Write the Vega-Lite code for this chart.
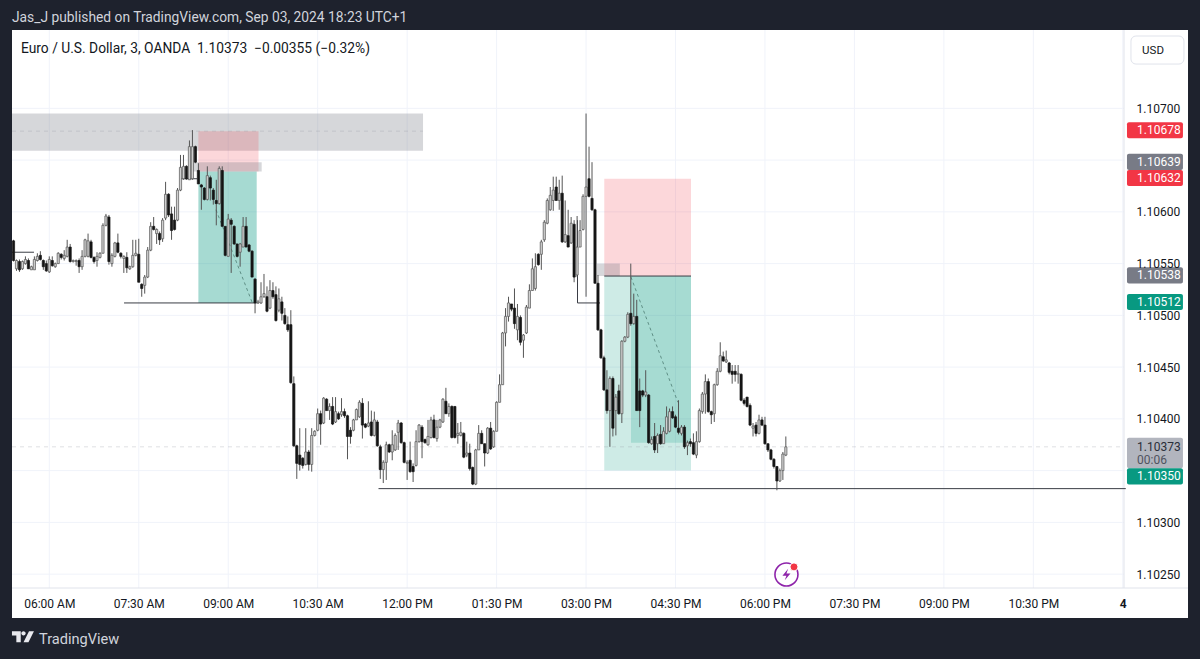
{"$schema":"https://vega.github.io/schema/vega-lite/v6.json","width":1112,"height":558,"autosize":{"type":"none"},"padding":{"left":12,"top":30,"right":76,"bottom":71},"background":"#1e222d","view":{"stroke":null},"config":{"scale":{"continuousPadding":0}},
"datasets":{
"panel":[{"a":"2024-09-03T05:22:29Z","b":"2024-09-04T01:05:36Z","top":1.107757,"bot":1.102076}],
"gx":[{"t":"2024-09-03T06:00Z"},{"t":"2024-09-03T07:30Z"},{"t":"2024-09-03T09:00Z"},{"t":"2024-09-03T10:30Z"},{"t":"2024-09-03T12:00Z"},{"t":"2024-09-03T13:30Z"},{"t":"2024-09-03T15:00Z"},{"t":"2024-09-03T16:30Z"},{"t":"2024-09-03T18:00Z"},{"t":"2024-09-03T19:30Z"},{"t":"2024-09-03T21:00Z"},{"t":"2024-09-03T22:30Z"},{"t":"2024-09-04T00:00Z"}],
"gy":[{"p":1.107},{"p":1.1065},{"p":1.106},{"p":1.1055},{"p":1.105},{"p":1.1045},{"p":1.104},{"p":1.1035},{"p":1.103},{"p":1.1025}],
"zones":[
{"a":"2024-09-03T05:22:29Z","b":"2024-09-03T12:16Z","top":1.10695,"bot":1.10659,"k":"gray"},
{"a":"2024-09-03T08:30Z","b":"2024-09-03T09:30:30Z","top":1.10678,"bot":1.10639,"k":"red"},
{"a":"2024-09-03T08:30Z","b":"2024-09-03T09:28:40Z","top":1.10639,"bot":1.10512,"k":"greenstrong"},
{"a":"2024-09-03T08:24:36Z","b":"2024-09-03T09:33:40Z","top":1.10648,"bot":1.10639,"k":"gray"},
{"a":"2024-09-03T15:18:20Z","b":"2024-09-03T16:45:36Z","top":1.10632,"bot":1.10538,"k":"red"},
{"a":"2024-09-03T15:18:20Z","b":"2024-09-03T16:45:36Z","top":1.10538,"bot":1.1035,"k":"green"},
{"a":"2024-09-03T15:45:12Z","b":"2024-09-03T16:45:36Z","top":1.10538,"bot":1.10377,"k":"green"},
{"a":"2024-09-03T15:11Z","b":"2024-09-03T15:34Z","top":1.1055,"bot":1.10538,"k":"gray"}],
"solid":[
{"x1":"2024-09-03T07:15:12Z","x2":"2024-09-03T09:28:40Z","y1":1.10512,"y2":1.10512},
{"x1":"2024-09-03T05:22:29Z","x2":"2024-09-03T05:44:36Z","y1":1.10561,"y2":1.10561},
{"x1":"2024-09-03T08:11:30Z","x2":"2024-09-03T08:28:36Z","y1":1.10632,"y2":1.10632},
{"x1":"2024-09-03T15:18:20Z","x2":"2024-09-03T16:45:36Z","y1":1.10538,"y2":1.10538},
{"x1":"2024-09-03T14:51:24Z","x2":"2024-09-03T15:14Z","y1":1.10512,"y2":1.10512},
{"x1":"2024-09-03T14:51:24Z","x2":"2024-09-03T14:51:24Z","y1":1.10592,"y2":1.10512},
{"x1":"2024-09-03T11:31:12Z","x2":"2024-09-04T00:03Z","y1":1.103326,"y2":1.103326}],
"faint":[
{"x1":"2024-09-03T05:22:29Z","x2":"2024-09-03T12:16Z","y1":1.10678,"y2":1.10678},
{"x1":"2024-09-03T05:22:29Z","x2":"2024-09-04T00:01:12Z","y1":1.10373,"y2":1.10373}],
"diag":[
{"x1":"2024-09-03T08:47:42Z","x2":"2024-09-03T09:23:54Z","y1":1.10602,"y2":1.10513},
{"x1":"2024-09-03T15:45:12Z","x2":"2024-09-03T16:32:24Z","y1":1.10537,"y2":1.10416}],
"sep":[
{"x1":"2024-09-04T00:01:12Z","x2":"2024-09-04T00:01:12Z","y1":1.107757,"y2":1.102366},
{"x1":"2024-09-03T05:22:29Z","x2":"2024-09-04T01:05:36Z","y1":1.102366,"y2":1.102366}],
"tags":[
{"a":"2024-09-04T00:04:12Z","b":"2024-09-04T01:00:30Z","top":1.106865,"bot":1.10671,"k":"r"},
{"a":"2024-09-04T00:04:12Z","b":"2024-09-04T01:00:30Z","top":1.106561,"bot":1.106404,"k":"g"},
{"a":"2024-09-04T00:04:12Z","b":"2024-09-04T01:00:30Z","top":1.106404,"bot":1.106249,"k":"r"},
{"a":"2024-09-04T00:04:12Z","b":"2024-09-04T01:00:30Z","top":1.105464,"bot":1.105309,"k":"g"},
{"a":"2024-09-04T00:04:12Z","b":"2024-09-04T01:00:30Z","top":1.105206,"bot":1.105051,"k":"t"},
{"a":"2024-09-04T00:04:12Z","b":"2024-09-04T01:00:30Z","top":1.103817,"bot":1.103522,"k":"l"},
{"a":"2024-09-04T00:04:12Z","b":"2024-09-04T01:00:30Z","top":1.103522,"bot":1.103367,"k":"t"}],
"tagtext":[
{"x":"2024-09-04T00:14:18Z","y":1.106787,"s":"1.10678","k":"w"},
{"x":"2024-09-04T00:14:18Z","y":1.106482,"s":"1.10639","k":"w"},
{"x":"2024-09-04T00:14:18Z","y":1.106326,"s":"1.10632","k":"w"},
{"x":"2024-09-04T00:14:18Z","y":1.105386,"s":"1.10538","k":"w"},
{"x":"2024-09-04T00:14:18Z","y":1.105128,"s":"1.10512","k":"w"},
{"x":"2024-09-04T00:14:18Z","y":1.103728,"s":"1.10373","k":"d"},
{"x":"2024-09-04T00:14:18Z","y":1.1036,"s":"00:06","k":"d2"},
{"x":"2024-09-04T00:14:18Z","y":1.103445,"s":"1.10350","k":"w"}],
"usd":[{"a":"2024-09-04T00:08:12Z","b":"2024-09-04T01:01:30Z","top":1.107699,"bot":1.107428}],
"usdtext":[{"x":"2024-09-04T00:30:24Z","y":1.107558,"s":"USD"}],
"title":[{"x":"2024-09-03T05:31:30Z","y":1.107573,"s":"Euro / U.S. Dollar, 3, OANDA\u00a0\u00a01.10373\u00a0\u00a0\u22120.00355 (\u22120.32%)"}],
"header":[{"x":"2024-09-03T05:22:29Z","y":1.107872,"s":"Jas_J published on TradingView.com, Sep 03, 2024 18:23 UTC+1"}],
"footer":[{"x":"2024-09-03T05:49:36Z","y":1.101862,"s":"TradingView"}],
"logo":[{"x":"2024-09-03T05:33:30Z","y":1.101896}],
"flash":[{"x":"2024-09-03T18:21:36Z","y":1.102496}],
"dot":[{"x":"2024-09-03T18:29:12Z","y":1.10257}],
"candles":[
{"t":"2024-09-03T05:24Z","o":1.10572,"h":1.10573,"l":1.10552,"c":1.10553},
{"t":"2024-09-03T05:27Z","o":1.10545,"h":1.10554,"l":1.10543,"c":1.10553},
{"t":"2024-09-03T05:30Z","o":1.10552,"h":1.10554,"l":1.10542,"c":1.10544},
{"t":"2024-09-03T05:33Z","o":1.10545,"h":1.10553,"l":1.10544,"c":1.10552},
{"t":"2024-09-03T05:36Z","o":1.1055,"h":1.10557,"l":1.10549,"c":1.10554},
{"t":"2024-09-03T05:39Z","o":1.10553,"h":1.10555,"l":1.10545,"c":1.10545},
{"t":"2024-09-03T05:42Z","o":1.10544,"h":1.10548,"l":1.10544,"c":1.10547},
{"t":"2024-09-03T05:45Z","o":1.10544,"h":1.10557,"l":1.10544,"c":1.10554},
{"t":"2024-09-03T05:48Z","o":1.10553,"h":1.1056,"l":1.10552,"c":1.10557},
{"t":"2024-09-03T05:51Z","o":1.10558,"h":1.10562,"l":1.10553,"c":1.10554},
{"t":"2024-09-03T05:54Z","o":1.10553,"h":1.10554,"l":1.10544,"c":1.10547},
{"t":"2024-09-03T05:57Z","o":1.1055,"h":1.10553,"l":1.10542,"c":1.10543},
{"t":"2024-09-03T06:00Z","o":1.10542,"h":1.10557,"l":1.10541,"c":1.10554},
{"t":"2024-09-03T06:03Z","o":1.10553,"h":1.10557,"l":1.10547,"c":1.10548},
{"t":"2024-09-03T06:06Z","o":1.10547,"h":1.10551,"l":1.10546,"c":1.1055},
{"t":"2024-09-03T06:09Z","o":1.1055,"h":1.10561,"l":1.1055,"c":1.1056},
{"t":"2024-09-03T06:12Z","o":1.10559,"h":1.1056,"l":1.10554,"c":1.10556},
{"t":"2024-09-03T06:15Z","o":1.10555,"h":1.10563,"l":1.10553,"c":1.10558},
{"t":"2024-09-03T06:18Z","o":1.10557,"h":1.10573,"l":1.10556,"c":1.10566},
{"t":"2024-09-03T06:21Z","o":1.10566,"h":1.10569,"l":1.10551,"c":1.10552},
{"t":"2024-09-03T06:24Z","o":1.10552,"h":1.10554,"l":1.10551,"c":1.10553},
{"t":"2024-09-03T06:27Z","o":1.10552,"h":1.10554,"l":1.10548,"c":1.10553},
{"t":"2024-09-03T06:30Z","o":1.10553,"h":1.10555,"l":1.10541,"c":1.10547},
{"t":"2024-09-03T06:33Z","o":1.10547,"h":1.10563,"l":1.10544,"c":1.10557},
{"t":"2024-09-03T06:36Z","o":1.10557,"h":1.10574,"l":1.10556,"c":1.10573},
{"t":"2024-09-03T06:39Z","o":1.10557,"h":1.10579,"l":1.10556,"c":1.10572},
{"t":"2024-09-03T06:42Z","o":1.10571,"h":1.10573,"l":1.10555,"c":1.10556},
{"t":"2024-09-03T06:45Z","o":1.10556,"h":1.10557,"l":1.1055,"c":1.10552},
{"t":"2024-09-03T06:48Z","o":1.10553,"h":1.10561,"l":1.10547,"c":1.10557},
{"t":"2024-09-03T06:51Z","o":1.10556,"h":1.10561,"l":1.10555,"c":1.1056},
{"t":"2024-09-03T06:54Z","o":1.1056,"h":1.10589,"l":1.1056,"c":1.10587},
{"t":"2024-09-03T06:57Z","o":1.10587,"h":1.10598,"l":1.10586,"c":1.10596},
{"t":"2024-09-03T07:00Z","o":1.10595,"h":1.10597,"l":1.10549,"c":1.10552},
{"t":"2024-09-03T07:03Z","o":1.1055,"h":1.1056,"l":1.10547,"c":1.10558},
{"t":"2024-09-03T07:06Z","o":1.10557,"h":1.10571,"l":1.10556,"c":1.1057},
{"t":"2024-09-03T07:09Z","o":1.1057,"h":1.10579,"l":1.1056,"c":1.10561},
{"t":"2024-09-03T07:12Z","o":1.1056,"h":1.10561,"l":1.10555,"c":1.10557},
{"t":"2024-09-03T07:15Z","o":1.10555,"h":1.10558,"l":1.10541,"c":1.10557},
{"t":"2024-09-03T07:18Z","o":1.10556,"h":1.10561,"l":1.10541,"c":1.10546},
{"t":"2024-09-03T07:21Z","o":1.10545,"h":1.10548,"l":1.10544,"c":1.10547},
{"t":"2024-09-03T07:24Z","o":1.10547,"h":1.10573,"l":1.10546,"c":1.10558},
{"t":"2024-09-03T07:27Z","o":1.10558,"h":1.10573,"l":1.10557,"c":1.1056},
{"t":"2024-09-03T07:30Z","o":1.10559,"h":1.10574,"l":1.10532,"c":1.10532},
{"t":"2024-09-03T07:33Z","o":1.1053,"h":1.10531,"l":1.10518,"c":1.10526},
{"t":"2024-09-03T07:36Z","o":1.10529,"h":1.10539,"l":1.10521,"c":1.10537},
{"t":"2024-09-03T07:39Z","o":1.10537,"h":1.10566,"l":1.10536,"c":1.10563},
{"t":"2024-09-03T07:42Z","o":1.10563,"h":1.1059,"l":1.10562,"c":1.10586},
{"t":"2024-09-03T07:45Z","o":1.10586,"h":1.10595,"l":1.10582,"c":1.10583},
{"t":"2024-09-03T07:48Z","o":1.10579,"h":1.10584,"l":1.10569,"c":1.10583},
{"t":"2024-09-03T07:51Z","o":1.10579,"h":1.10581,"l":1.10568,"c":1.10573},
{"t":"2024-09-03T07:54Z","o":1.10574,"h":1.10594,"l":1.10571,"c":1.10592},
{"t":"2024-09-03T07:57Z","o":1.10594,"h":1.10629,"l":1.10592,"c":1.10617},
{"t":"2024-09-03T08:00Z","o":1.10617,"h":1.10618,"l":1.10595,"c":1.10597},
{"t":"2024-09-03T08:03Z","o":1.10598,"h":1.10605,"l":1.10573,"c":1.10582},
{"t":"2024-09-03T08:06Z","o":1.10592,"h":1.10605,"l":1.10582,"c":1.10583},
{"t":"2024-09-03T08:09Z","o":1.10592,"h":1.10623,"l":1.10591,"c":1.10621},
{"t":"2024-09-03T08:12Z","o":1.10621,"h":1.10655,"l":1.1062,"c":1.10643},
{"t":"2024-09-03T08:15Z","o":1.10632,"h":1.10655,"l":1.10631,"c":1.10644},
{"t":"2024-09-03T08:18Z","o":1.10644,"h":1.10645,"l":1.10631,"c":1.10632},
{"t":"2024-09-03T08:21Z","o":1.10631,"h":1.10669,"l":1.10631,"c":1.10663},
{"t":"2024-09-03T08:24Z","o":1.10632,"h":1.10679,"l":1.10631,"c":1.10663},
{"t":"2024-09-03T08:27Z","o":1.10663,"h":1.10664,"l":1.10647,"c":1.10648},
{"t":"2024-09-03T08:30Z","o":1.1064,"h":1.10647,"l":1.10627,"c":1.10627},
{"t":"2024-09-03T08:33Z","o":1.10626,"h":1.10627,"l":1.10602,"c":1.10624},
{"t":"2024-09-03T08:36Z","o":1.10623,"h":1.10624,"l":1.10611,"c":1.10612},
{"t":"2024-09-03T08:39Z","o":1.10612,"h":1.10644,"l":1.10611,"c":1.10635},
{"t":"2024-09-03T08:42Z","o":1.10633,"h":1.10635,"l":1.10611,"c":1.10623},
{"t":"2024-09-03T08:45Z","o":1.10621,"h":1.10623,"l":1.10607,"c":1.10612},
{"t":"2024-09-03T08:48Z","o":1.10611,"h":1.10631,"l":1.10587,"c":1.10608},
{"t":"2024-09-03T08:51Z","o":1.10608,"h":1.10644,"l":1.10607,"c":1.10642},
{"t":"2024-09-03T08:54Z","o":1.1064,"h":1.10644,"l":1.10586,"c":1.10586},
{"t":"2024-09-03T08:57Z","o":1.10586,"h":1.10586,"l":1.10557,"c":1.10558},
{"t":"2024-09-03T09:00Z","o":1.10557,"h":1.10598,"l":1.10557,"c":1.10593},
{"t":"2024-09-03T09:03Z","o":1.10592,"h":1.10594,"l":1.10541,"c":1.10588},
{"t":"2024-09-03T09:06Z","o":1.10586,"h":1.10587,"l":1.10568,"c":1.10569},
{"t":"2024-09-03T09:09Z","o":1.10569,"h":1.10569,"l":1.10556,"c":1.10557},
{"t":"2024-09-03T09:12Z","o":1.10561,"h":1.1057,"l":1.10547,"c":1.10569},
{"t":"2024-09-03T09:15Z","o":1.10566,"h":1.10595,"l":1.10566,"c":1.10586},
{"t":"2024-09-03T09:18Z","o":1.10586,"h":1.10595,"l":1.10566,"c":1.10566},
{"t":"2024-09-03T09:21Z","o":1.10568,"h":1.10569,"l":1.10561,"c":1.10562},
{"t":"2024-09-03T09:24Z","o":1.10562,"h":1.10563,"l":1.10537,"c":1.10537},
{"t":"2024-09-03T09:27Z","o":1.10535,"h":1.10536,"l":1.10502,"c":1.10512},
{"t":"2024-09-03T09:30Z","o":1.10512,"h":1.10515,"l":1.10511,"c":1.10513},
{"t":"2024-09-03T09:33Z","o":1.10512,"h":1.10532,"l":1.10511,"c":1.10518},
{"t":"2024-09-03T09:36Z","o":1.10518,"h":1.1054,"l":1.10517,"c":1.10521},
{"t":"2024-09-03T09:39Z","o":1.10518,"h":1.10528,"l":1.10503,"c":1.10504},
{"t":"2024-09-03T09:42Z","o":1.10507,"h":1.10534,"l":1.10506,"c":1.10524},
{"t":"2024-09-03T09:45Z","o":1.10524,"h":1.10532,"l":1.10516,"c":1.10518},
{"t":"2024-09-03T09:48Z","o":1.1052,"h":1.10528,"l":1.10494,"c":1.10495},
{"t":"2024-09-03T09:51Z","o":1.10505,"h":1.10526,"l":1.10503,"c":1.10516},
{"t":"2024-09-03T09:54Z","o":1.10513,"h":1.10518,"l":1.10495,"c":1.10502},
{"t":"2024-09-03T09:57Z","o":1.105,"h":1.10507,"l":1.10491,"c":1.10492},
{"t":"2024-09-03T10:00Z","o":1.10491,"h":1.10499,"l":1.10484,"c":1.10486},
{"t":"2024-09-03T10:03Z","o":1.10491,"h":1.10505,"l":1.10434,"c":1.10435},
{"t":"2024-09-03T10:06Z","o":1.10434,"h":1.10441,"l":1.10373,"c":1.10374},
{"t":"2024-09-03T10:09Z","o":1.10374,"h":1.10375,"l":1.10342,"c":1.10357},
{"t":"2024-09-03T10:12Z","o":1.10365,"h":1.10391,"l":1.1035,"c":1.10356},
{"t":"2024-09-03T10:15Z","o":1.10362,"h":1.10363,"l":1.10352,"c":1.10355},
{"t":"2024-09-03T10:18Z","o":1.10356,"h":1.10391,"l":1.10355,"c":1.10368},
{"t":"2024-09-03T10:21Z","o":1.10368,"h":1.1037,"l":1.1035,"c":1.10356},
{"t":"2024-09-03T10:24Z","o":1.10356,"h":1.10391,"l":1.10349,"c":1.10384},
{"t":"2024-09-03T10:27Z","o":1.10384,"h":1.10389,"l":1.10383,"c":1.10388},
{"t":"2024-09-03T10:30Z","o":1.10389,"h":1.1041,"l":1.10388,"c":1.10405},
{"t":"2024-09-03T10:33Z","o":1.10405,"h":1.10408,"l":1.10375,"c":1.10395},
{"t":"2024-09-03T10:36Z","o":1.10396,"h":1.10421,"l":1.10395,"c":1.1042},
{"t":"2024-09-03T10:39Z","o":1.10419,"h":1.1042,"l":1.10408,"c":1.10408},
{"t":"2024-09-03T10:42Z","o":1.10408,"h":1.10415,"l":1.10399,"c":1.10412},
{"t":"2024-09-03T10:45Z","o":1.10412,"h":1.10421,"l":1.10394,"c":1.10395},
{"t":"2024-09-03T10:48Z","o":1.10397,"h":1.10421,"l":1.10396,"c":1.10407},
{"t":"2024-09-03T10:51Z","o":1.10405,"h":1.10407,"l":1.10399,"c":1.104},
{"t":"2024-09-03T10:54Z","o":1.10404,"h":1.1042,"l":1.10402,"c":1.10407},
{"t":"2024-09-03T10:57Z","o":1.10407,"h":1.1041,"l":1.10401,"c":1.10403},
{"t":"2024-09-03T11:00Z","o":1.10403,"h":1.10404,"l":1.10361,"c":1.10383},
{"t":"2024-09-03T11:03Z","o":1.10389,"h":1.10392,"l":1.10376,"c":1.10383},
{"t":"2024-09-03T11:06Z","o":1.10389,"h":1.104,"l":1.10388,"c":1.10399},
{"t":"2024-09-03T11:09Z","o":1.10399,"h":1.1041,"l":1.10399,"c":1.10409},
{"t":"2024-09-03T11:12Z","o":1.10402,"h":1.10418,"l":1.10401,"c":1.10416},
{"t":"2024-09-03T11:15Z","o":1.10415,"h":1.1042,"l":1.10381,"c":1.10394},
{"t":"2024-09-03T11:18Z","o":1.10395,"h":1.10396,"l":1.10391,"c":1.10392},
{"t":"2024-09-03T11:21Z","o":1.10393,"h":1.10417,"l":1.10392,"c":1.10396},
{"t":"2024-09-03T11:24Z","o":1.10397,"h":1.10408,"l":1.10383,"c":1.10384},
{"t":"2024-09-03T11:27Z","o":1.10384,"h":1.10407,"l":1.10383,"c":1.10399},
{"t":"2024-09-03T11:30Z","o":1.10397,"h":1.10399,"l":1.10373,"c":1.10374},
{"t":"2024-09-03T11:33Z","o":1.10373,"h":1.10375,"l":1.10342,"c":1.10351},
{"t":"2024-09-03T11:36Z","o":1.10351,"h":1.1036,"l":1.10338,"c":1.10358},
{"t":"2024-09-03T11:39Z","o":1.10358,"h":1.10378,"l":1.10341,"c":1.10375},
{"t":"2024-09-03T11:42Z","o":1.10375,"h":1.10376,"l":1.10367,"c":1.10368},
{"t":"2024-09-03T11:45Z","o":1.10368,"h":1.10389,"l":1.1036,"c":1.10375},
{"t":"2024-09-03T11:48Z","o":1.1037,"h":1.10386,"l":1.10369,"c":1.10384},
{"t":"2024-09-03T11:51Z","o":1.10387,"h":1.10399,"l":1.1037,"c":1.10396},
{"t":"2024-09-03T11:54Z","o":1.10396,"h":1.10397,"l":1.10376,"c":1.10377},
{"t":"2024-09-03T11:57Z","o":1.10377,"h":1.10378,"l":1.10357,"c":1.10358},
{"t":"2024-09-03T12:00Z","o":1.10357,"h":1.1036,"l":1.10341,"c":1.10358},
{"t":"2024-09-03T12:03Z","o":1.1036,"h":1.10378,"l":1.10348,"c":1.10349},
{"t":"2024-09-03T12:06Z","o":1.10354,"h":1.10357,"l":1.10339,"c":1.10349},
{"t":"2024-09-03T12:09Z","o":1.10355,"h":1.10389,"l":1.10354,"c":1.10378},
{"t":"2024-09-03T12:12Z","o":1.10378,"h":1.10395,"l":1.10377,"c":1.10394},
{"t":"2024-09-03T12:15Z","o":1.10392,"h":1.10394,"l":1.10362,"c":1.10378},
{"t":"2024-09-03T12:18Z","o":1.1038,"h":1.10381,"l":1.10376,"c":1.10377},
{"t":"2024-09-03T12:21Z","o":1.10375,"h":1.10399,"l":1.10374,"c":1.10383},
{"t":"2024-09-03T12:24Z","o":1.10382,"h":1.10402,"l":1.10381,"c":1.10399},
{"t":"2024-09-03T12:27Z","o":1.10399,"h":1.10404,"l":1.10381,"c":1.10382},
{"t":"2024-09-03T12:30Z","o":1.10381,"h":1.10399,"l":1.10378,"c":1.10392},
{"t":"2024-09-03T12:33Z","o":1.10392,"h":1.104,"l":1.10391,"c":1.10399},
{"t":"2024-09-03T12:36Z","o":1.10397,"h":1.1042,"l":1.10396,"c":1.10419},
{"t":"2024-09-03T12:39Z","o":1.10417,"h":1.1043,"l":1.10405,"c":1.10405},
{"t":"2024-09-03T12:42Z","o":1.10405,"h":1.10415,"l":1.10402,"c":1.10412},
{"t":"2024-09-03T12:45Z","o":1.10412,"h":1.10413,"l":1.10381,"c":1.10382},
{"t":"2024-09-03T12:48Z","o":1.10412,"h":1.10412,"l":1.10381,"c":1.10382},
{"t":"2024-09-03T12:51Z","o":1.10384,"h":1.10396,"l":1.10376,"c":1.10386},
{"t":"2024-09-03T12:54Z","o":1.10384,"h":1.10397,"l":1.10383,"c":1.10387},
{"t":"2024-09-03T12:57Z","o":1.10386,"h":1.10387,"l":1.10362,"c":1.10363},
{"t":"2024-09-03T13:00Z","o":1.10365,"h":1.10378,"l":1.10363,"c":1.10367},
{"t":"2024-09-03T13:03Z","o":1.10367,"h":1.10376,"l":1.1035,"c":1.10352},
{"t":"2024-09-03T13:06Z","o":1.10353,"h":1.10354,"l":1.10336,"c":1.10337},
{"t":"2024-09-03T13:09Z","o":1.10337,"h":1.10371,"l":1.10336,"c":1.1037},
{"t":"2024-09-03T13:12Z","o":1.1037,"h":1.10394,"l":1.1037,"c":1.10386},
{"t":"2024-09-03T13:15Z","o":1.10386,"h":1.10389,"l":1.10376,"c":1.10376},
{"t":"2024-09-03T13:18Z","o":1.10376,"h":1.10376,"l":1.10354,"c":1.10367},
{"t":"2024-09-03T13:21Z","o":1.10367,"h":1.10392,"l":1.10366,"c":1.10391},
{"t":"2024-09-03T13:24Z","o":1.10391,"h":1.10397,"l":1.1037,"c":1.10371},
{"t":"2024-09-03T13:27Z","o":1.10373,"h":1.10389,"l":1.10372,"c":1.10388},
{"t":"2024-09-03T13:30Z","o":1.10388,"h":1.10417,"l":1.10388,"c":1.10416},
{"t":"2024-09-03T13:33Z","o":1.10416,"h":1.10443,"l":1.10416,"c":1.10433},
{"t":"2024-09-03T13:36Z","o":1.10433,"h":1.10484,"l":1.10433,"c":1.10483},
{"t":"2024-09-03T13:39Z","o":1.10483,"h":1.10507,"l":1.1047,"c":1.10499},
{"t":"2024-09-03T13:42Z","o":1.10499,"h":1.10518,"l":1.10494,"c":1.10512},
{"t":"2024-09-03T13:45Z","o":1.10511,"h":1.10511,"l":1.10504,"c":1.10506},
{"t":"2024-09-03T13:48Z","o":1.10507,"h":1.10526,"l":1.10487,"c":1.10492},
{"t":"2024-09-03T13:51Z","o":1.10486,"h":1.10511,"l":1.10476,"c":1.10499},
{"t":"2024-09-03T13:54Z","o":1.10498,"h":1.105,"l":1.10471,"c":1.10474},
{"t":"2024-09-03T13:57Z","o":1.10476,"h":1.10482,"l":1.10459,"c":1.10481},
{"t":"2024-09-03T14:00Z","o":1.10483,"h":1.1051,"l":1.10482,"c":1.10508},
{"t":"2024-09-03T14:03Z","o":1.10507,"h":1.1053,"l":1.10507,"c":1.10524},
{"t":"2024-09-03T14:06Z","o":1.10524,"h":1.10555,"l":1.10524,"c":1.10545},
{"t":"2024-09-03T14:09Z","o":1.10526,"h":1.1056,"l":1.10524,"c":1.10547},
{"t":"2024-09-03T14:12Z","o":1.10559,"h":1.1056,"l":1.10548,"c":1.10549},
{"t":"2024-09-03T14:15Z","o":1.10559,"h":1.10573,"l":1.10544,"c":1.10571},
{"t":"2024-09-03T14:18Z","o":1.10573,"h":1.10592,"l":1.10571,"c":1.1059},
{"t":"2024-09-03T14:21Z","o":1.10589,"h":1.10613,"l":1.10588,"c":1.10611},
{"t":"2024-09-03T14:24Z","o":1.10602,"h":1.10624,"l":1.10601,"c":1.10616},
{"t":"2024-09-03T14:27Z","o":1.10611,"h":1.10634,"l":1.10601,"c":1.10621},
{"t":"2024-09-03T14:30Z","o":1.10624,"h":1.10634,"l":1.10611,"c":1.10611},
{"t":"2024-09-03T14:33Z","o":1.10611,"h":1.10631,"l":1.10602,"c":1.10618},
{"t":"2024-09-03T14:36Z","o":1.10618,"h":1.10635,"l":1.1057,"c":1.10571},
{"t":"2024-09-03T14:39Z","o":1.10571,"h":1.10611,"l":1.1057,"c":1.10578},
{"t":"2024-09-03T14:42Z","o":1.10577,"h":1.10602,"l":1.10566,"c":1.10566},
{"t":"2024-09-03T14:45Z","o":1.1057,"h":1.10595,"l":1.10569,"c":1.10589},
{"t":"2024-09-03T14:48Z","o":1.10588,"h":1.10592,"l":1.10532,"c":1.10537},
{"t":"2024-09-03T14:51Z","o":1.10539,"h":1.10596,"l":1.10537,"c":1.10566},
{"t":"2024-09-03T14:54Z","o":1.10566,"h":1.10592,"l":1.10566,"c":1.10582},
{"t":"2024-09-03T14:57Z","o":1.10583,"h":1.10617,"l":1.10582,"c":1.10615},
{"t":"2024-09-03T15:00Z","o":1.10615,"h":1.10695,"l":1.10518,"c":1.10624},
{"t":"2024-09-03T15:03Z","o":1.10632,"h":1.10663,"l":1.10614,"c":1.10615},
{"t":"2024-09-03T15:06Z","o":1.10613,"h":1.10648,"l":1.10601,"c":1.10602},
{"t":"2024-09-03T15:09Z","o":1.10602,"h":1.10603,"l":1.10531,"c":1.10531},
{"t":"2024-09-03T15:12Z","o":1.10531,"h":1.10539,"l":1.10485,"c":1.10486},
{"t":"2024-09-03T15:15Z","o":1.10486,"h":1.10487,"l":1.10458,"c":1.10459},
{"t":"2024-09-03T15:18Z","o":1.10459,"h":1.10461,"l":1.10427,"c":1.10428},
{"t":"2024-09-03T15:21Z","o":1.10428,"h":1.10447,"l":1.10405,"c":1.10408},
{"t":"2024-09-03T15:24Z","o":1.10408,"h":1.10441,"l":1.10373,"c":1.10439},
{"t":"2024-09-03T15:27Z","o":1.10439,"h":1.10441,"l":1.10383,"c":1.10391},
{"t":"2024-09-03T15:30Z","o":1.10408,"h":1.10424,"l":1.10384,"c":1.10421},
{"t":"2024-09-03T15:33Z","o":1.10427,"h":1.10433,"l":1.10404,"c":1.10405},
{"t":"2024-09-03T15:36Z","o":1.10405,"h":1.10476,"l":1.10396,"c":1.10475},
{"t":"2024-09-03T15:39Z","o":1.10475,"h":1.1048,"l":1.10474,"c":1.10479},
{"t":"2024-09-03T15:42Z","o":1.10479,"h":1.10503,"l":1.10478,"c":1.10501},
{"t":"2024-09-03T15:45Z","o":1.10502,"h":1.1055,"l":1.1049,"c":1.10492},
{"t":"2024-09-03T15:48Z","o":1.10492,"h":1.10521,"l":1.10491,"c":1.10499},
{"t":"2024-09-03T15:51Z","o":1.10499,"h":1.10515,"l":1.10408,"c":1.10408},
{"t":"2024-09-03T15:54Z","o":1.10427,"h":1.10439,"l":1.10392,"c":1.10408},
{"t":"2024-09-03T15:57Z","o":1.10427,"h":1.10428,"l":1.10421,"c":1.10423},
{"t":"2024-09-03T16:00Z","o":1.10423,"h":1.10447,"l":1.10421,"c":1.10426},
{"t":"2024-09-03T16:03Z","o":1.10423,"h":1.10424,"l":1.10376,"c":1.10377},
{"t":"2024-09-03T16:06Z","o":1.10376,"h":1.10383,"l":1.10375,"c":1.1038},
{"t":"2024-09-03T16:09Z","o":1.10383,"h":1.10396,"l":1.10367,"c":1.1037},
{"t":"2024-09-03T16:12Z","o":1.10376,"h":1.10386,"l":1.10367,"c":1.10384},
{"t":"2024-09-03T16:15Z","o":1.10385,"h":1.10394,"l":1.10375,"c":1.10376},
{"t":"2024-09-03T16:18Z","o":1.10376,"h":1.10392,"l":1.10376,"c":1.10388},
{"t":"2024-09-03T16:21Z","o":1.10386,"h":1.10412,"l":1.10385,"c":1.10402},
{"t":"2024-09-03T16:24Z","o":1.10388,"h":1.1041,"l":1.10387,"c":1.10407},
{"t":"2024-09-03T16:27Z","o":1.10407,"h":1.10412,"l":1.104,"c":1.10401},
{"t":"2024-09-03T16:30Z","o":1.10402,"h":1.10404,"l":1.10391,"c":1.10392},
{"t":"2024-09-03T16:33Z","o":1.10391,"h":1.10418,"l":1.10385,"c":1.10387},
{"t":"2024-09-03T16:36Z","o":1.10386,"h":1.10394,"l":1.10384,"c":1.10392},
{"t":"2024-09-03T16:39Z","o":1.10392,"h":1.10394,"l":1.10371,"c":1.10373},
{"t":"2024-09-03T16:42Z","o":1.10374,"h":1.10379,"l":1.10365,"c":1.10377},
{"t":"2024-09-03T16:45Z","o":1.10378,"h":1.10381,"l":1.10373,"c":1.10376},
{"t":"2024-09-03T16:48Z","o":1.10377,"h":1.10386,"l":1.10365,"c":1.10366},
{"t":"2024-09-03T16:51Z","o":1.10365,"h":1.10388,"l":1.10362,"c":1.10378},
{"t":"2024-09-03T16:54Z","o":1.10378,"h":1.1041,"l":1.10377,"c":1.10408},
{"t":"2024-09-03T16:57Z","o":1.10407,"h":1.10426,"l":1.10405,"c":1.10424},
{"t":"2024-09-03T17:00Z","o":1.10424,"h":1.10443,"l":1.10405,"c":1.10436},
{"t":"2024-09-03T17:03Z","o":1.10436,"h":1.10439,"l":1.10406,"c":1.10407},
{"t":"2024-09-03T17:06Z","o":1.10407,"h":1.10408,"l":1.10395,"c":1.10404},
{"t":"2024-09-03T17:09Z","o":1.10405,"h":1.10434,"l":1.10397,"c":1.10433},
{"t":"2024-09-03T17:12Z","o":1.10433,"h":1.10449,"l":1.10432,"c":1.10446},
{"t":"2024-09-03T17:15Z","o":1.10446,"h":1.10474,"l":1.10445,"c":1.10461},
{"t":"2024-09-03T17:18Z","o":1.1046,"h":1.10465,"l":1.10455,"c":1.10456},
{"t":"2024-09-03T17:21Z","o":1.10455,"h":1.10466,"l":1.10454,"c":1.10457},
{"t":"2024-09-03T17:24Z","o":1.10454,"h":1.10455,"l":1.10443,"c":1.10445},
{"t":"2024-09-03T17:27Z","o":1.10446,"h":1.10452,"l":1.10434,"c":1.10443},
{"t":"2024-09-03T17:30Z","o":1.10446,"h":1.10452,"l":1.10436,"c":1.10443},
{"t":"2024-09-03T17:33Z","o":1.10443,"h":1.10452,"l":1.10434,"c":1.10444},
{"t":"2024-09-03T17:36Z","o":1.10443,"h":1.10444,"l":1.10417,"c":1.10418},
{"t":"2024-09-03T17:39Z","o":1.10418,"h":1.1042,"l":1.10413,"c":1.10415},
{"t":"2024-09-03T17:42Z","o":1.10421,"h":1.10421,"l":1.10411,"c":1.10412},
{"t":"2024-09-03T17:45Z","o":1.10413,"h":1.10415,"l":1.10393,"c":1.10394},
{"t":"2024-09-03T17:48Z","o":1.10391,"h":1.10396,"l":1.10383,"c":1.10393},
{"t":"2024-09-03T17:51Z","o":1.10394,"h":1.10397,"l":1.10383,"c":1.10386},
{"t":"2024-09-03T17:54Z","o":1.10386,"h":1.10404,"l":1.10385,"c":1.10399},
{"t":"2024-09-03T17:57Z","o":1.10399,"h":1.10402,"l":1.10393,"c":1.10394},
{"t":"2024-09-03T18:00Z","o":1.10394,"h":1.10402,"l":1.10375,"c":1.10376},
{"t":"2024-09-03T18:03Z","o":1.10376,"h":1.10376,"l":1.10368,"c":1.1037},
{"t":"2024-09-03T18:06Z","o":1.1037,"h":1.10371,"l":1.1036,"c":1.10361},
{"t":"2024-09-03T18:09Z","o":1.10361,"h":1.10362,"l":1.10352,"c":1.10354},
{"t":"2024-09-03T18:12Z","o":1.10354,"h":1.10354,"l":1.10331,"c":1.1034},
{"t":"2024-09-03T18:15Z","o":1.1034,"h":1.10352,"l":1.10339,"c":1.1035},
{"t":"2024-09-03T18:18Z","o":1.1035,"h":1.10368,"l":1.10341,"c":1.10366},
{"t":"2024-09-03T18:21Z","o":1.10365,"h":1.10383,"l":1.10364,"c":1.10373}
]},
"layer":[
{"data":{"name":"panel"},"mark":{"type":"rect","fill":"#ffffff"},"encoding":{
"x":{"field":"a","type":"temporal","title":null,"scale":{"type":"utc","nice":false,"domain":[1725340949000,1725408072000]},"axis":{"zindex":1,"grid":false,"domain":false,"ticks":false,"labelColor":"#131722","labelFont":"Roboto","labelFontSize":12,"labelPadding":10,"labelBound":false,"labelFlush":false,"labelOverlap":false,"values":[1725343200000,1725348600000,1725354000000,1725359400000,1725364800000,1725370200000,1725375600000,1725381000000,1725386400000,1725391800000,1725397200000,1725402600000,1725408000000],"labelExpr":"utchours(datum.value)==0?'4':utcFormat(datum.value,'%I:%M %p')","labelFontWeight":{"condition":{"test":"utchours(datum.value)==0","value":"bold"},"value":"normal"}}},
"x2":{"field":"b"},
"y":{"field":"top","type":"quantitative","title":null,"scale":{"nice":false,"zero":false,"domain":[1.102366,1.107757]},"axis":{"orient":"right","zindex":1,"grid":false,"domain":false,"ticks":false,"labelColor":"#131722","labelFont":"Roboto","labelFontSize":12,"labelPadding":12,"labelBound":false,"labelOverlap":false,"format":".5f","values":[1.107,1.106,1.1055,1.105,1.1045,1.104,1.103,1.1025]}},
"y2":{"field":"bot"}}},
{"data":{"name":"gx"},"mark":{"type":"rule","stroke":"#f0f3fa","strokeWidth":1},"encoding":{"x":{"field":"t","type":"temporal","scale":{"type":"utc","nice":false,"domain":[1725340949000,1725408072000]}}}},
{"data":{"name":"gy"},"mark":{"type":"rule","stroke":"#f0f3fa","strokeWidth":1},"encoding":{"y":{"field":"p","type":"quantitative","scale":{"nice":false,"zero":false,"domain":[1.102366,1.107757]}}}},
{"data":{"name":"sep"},"mark":{"type":"rule","stroke":"#e0e3eb","strokeWidth":1},"encoding":{"x":{"field":"x1","type":"temporal","scale":{"type":"utc","nice":false,"domain":[1725340949000,1725408072000]}},"x2":{"field":"x2"},"y":{"field":"y1","type":"quantitative","scale":{"nice":false,"zero":false,"domain":[1.102366,1.107757]}},"y2":{"field":"y2"}}},
{"data":{"name":"zones"},"mark":{"type":"rect"},"encoding":{"x":{"field":"a","type":"temporal","scale":{"type":"utc","nice":false,"domain":[1725340949000,1725408072000]}},"x2":{"field":"b"},"y":{"field":"top","type":"quantitative","scale":{"nice":false,"zero":false,"domain":[1.102366,1.107757]}},"y2":{"field":"bot"},
"fill":{"condition":[{"test":"datum.k=='gray'","value":"#787b86"},{"test":"datum.k=='red'","value":"#f23645"}],"value":"#089981"},
"fillOpacity":{"condition":[{"test":"datum.k=='gray'","value":0.3},{"test":"datum.k=='greenstrong'","value":0.36}],"value":0.2}}},
{"data":{"name":"faint"},"mark":{"type":"rule","stroke":"#9598a1","strokeWidth":1,"strokeDash":[4,4],"opacity":0.3},"encoding":{"x":{"field":"x1","type":"temporal","scale":{"type":"utc","nice":false,"domain":[1725340949000,1725408072000]}},"x2":{"field":"x2"},"y":{"field":"y1","type":"quantitative","scale":{"nice":false,"zero":false,"domain":[1.102366,1.107757]}},"y2":{"field":"y2"}}},
{"data":{"name":"diag"},"mark":{"type":"rule","stroke":"#5f8f86","strokeWidth":1,"strokeDash":[3,3]},"encoding":{"x":{"field":"x1","type":"temporal","scale":{"type":"utc","nice":false,"domain":[1725340949000,1725408072000]}},"x2":{"field":"x2"},"y":{"field":"y1","type":"quantitative","scale":{"nice":false,"zero":false,"domain":[1.102366,1.107757]}},"y2":{"field":"y2"}}},
{"data":{"name":"solid"},"mark":{"type":"rule","stroke":"#3a3d45","strokeWidth":1},"encoding":{"x":{"field":"x1","type":"temporal","scale":{"type":"utc","nice":false,"domain":[1725340949000,1725408072000]}},"x2":{"field":"x2"},"y":{"field":"y1","type":"quantitative","scale":{"nice":false,"zero":false,"domain":[1.102366,1.107757]}},"y2":{"field":"y2"}}},
{"data":{"name":"candles"},"mark":{"type":"rule","stroke":"#555555","strokeWidth":1},"encoding":{"x":{"field":"t","type":"temporal","scale":{"type":"utc","nice":false,"domain":[1725340949000,1725408072000]}},"y":{"field":"h","type":"quantitative","scale":{"nice":false,"zero":false,"domain":[1.102366,1.107757]}},"y2":{"field":"l"}}},
{"data":{"name":"candles"},"mark":{"type":"bar","size":2.2,"strokeWidth":0.7},"encoding":{"x":{"field":"t","type":"temporal","scale":{"type":"utc","nice":false,"domain":[1725340949000,1725408072000]}},"y":{"field":"o","type":"quantitative","scale":{"nice":false,"zero":false,"domain":[1.102366,1.107757]}},"y2":{"field":"c"},"fill":{"condition":{"test":"datum.c>datum.o","value":"#d0d0d0"},"value":"#151515"},"stroke":{"condition":{"test":"datum.c>datum.o","value":"#555555"},"value":"#151515"}}},
{"data":{"name":"tags"},"mark":{"type":"rect","cornerRadius":2},"encoding":{"x":{"field":"a","type":"temporal","scale":{"type":"utc","nice":false,"domain":[1725340949000,1725408072000]}},"x2":{"field":"b"},"y":{"field":"top","type":"quantitative","scale":{"nice":false,"zero":false,"domain":[1.102366,1.107757]}},"y2":{"field":"bot"},"fill":{"condition":[{"test":"datum.k=='r'","value":"#f23645"},{"test":"datum.k=='g'","value":"#787b86"},{"test":"datum.k=='t'","value":"#089981"}],"value":"#b2b5be"}}},
{"data":{"name":"tagtext"},"mark":{"type":"text","font":"Roboto","fontSize":12,"align":"left","baseline":"middle"},"encoding":{"x":{"field":"x","type":"temporal","scale":{"type":"utc","nice":false,"domain":[1725340949000,1725408072000]}},"y":{"field":"y","type":"quantitative","scale":{"nice":false,"zero":false,"domain":[1.102366,1.107757]}},"text":{"field":"s"},"fill":{"condition":[{"test":"datum.k=='d'","value":"#2a2e39"},{"test":"datum.k=='d2'","value":"#50535e"}],"value":"#ffffff"}}},
{"data":{"name":"usd"},"mark":{"type":"rect","fill":"#ffffff","stroke":"#e0e3eb","strokeWidth":1,"cornerRadius":5},"encoding":{"x":{"field":"a","type":"temporal","scale":{"type":"utc","nice":false,"domain":[1725340949000,1725408072000]}},"x2":{"field":"b"},"y":{"field":"top","type":"quantitative","scale":{"nice":false,"zero":false,"domain":[1.102366,1.107757]}},"y2":{"field":"bot"}}},
{"data":{"name":"usdtext"},"mark":{"type":"text","font":"Roboto","fontSize":11.5,"align":"center","baseline":"middle","fill":"#131722"},"encoding":{"x":{"field":"x","type":"temporal","scale":{"type":"utc","nice":false,"domain":[1725340949000,1725408072000]}},"y":{"field":"y","type":"quantitative","scale":{"nice":false,"zero":false,"domain":[1.102366,1.107757]}},"text":{"field":"s"}}},
{"data":{"name":"title"},"mark":{"type":"text","font":"Roboto","fontSize":13.8,"align":"left","baseline":"middle","fill":"#131722"},"encoding":{"x":{"field":"x","type":"temporal","scale":{"type":"utc","nice":false,"domain":[1725340949000,1725408072000]}},"y":{"field":"y","type":"quantitative","scale":{"nice":false,"zero":false,"domain":[1.102366,1.107757]}},"text":{"field":"s"}}},
{"data":{"name":"header"},"mark":{"type":"text","font":"Roboto","fontSize":13.8,"align":"left","baseline":"middle","fill":"#d1d4dc"},"encoding":{"x":{"field":"x","type":"temporal","scale":{"type":"utc","nice":false,"domain":[1725340949000,1725408072000]}},"y":{"field":"y","type":"quantitative","scale":{"nice":false,"zero":false,"domain":[1.102366,1.107757]}},"text":{"field":"s"}}},
{"data":{"name":"footer"},"mark":{"type":"text","font":"Roboto","fontSize":14.6,"align":"left","baseline":"middle","fill":"#d1d4dc"},"encoding":{"x":{"field":"x","type":"temporal","scale":{"type":"utc","nice":false,"domain":[1725340949000,1725408072000]}},"y":{"field":"y","type":"quantitative","scale":{"nice":false,"zero":false,"domain":[1.102366,1.107757]}},"text":{"field":"s"}}},
{"data":{"name":"logo"},"mark":{"type":"point","filled":true,"fill":"#e8e9ee","opacity":1,"strokeWidth":0,"size":484,"shape":"M-1,-0.5H-0.2V0.5H-0.6V-0.1H-1Z M0.55,-0.5H1L0.5,0.5H0.05Z M0.25,-0.3 A0.2,0.2 0 1 1 -0.15,-0.3 A0.2,0.2 0 1 1 0.25,-0.3Z"},"encoding":{"x":{"field":"x","type":"temporal","scale":{"type":"utc","nice":false,"domain":[1725340949000,1725408072000]}},"y":{"field":"y","type":"quantitative","scale":{"nice":false,"zero":false,"domain":[1.102366,1.107757]}}}},
{"data":{"name":"flash"},"mark":{"type":"point","shape":"circle","filled":false,"stroke":"#8e24aa","strokeWidth":1.6,"opacity":1,"size":529},"encoding":{"x":{"field":"x","type":"temporal","scale":{"type":"utc","nice":false,"domain":[1725340949000,1725408072000]}},"y":{"field":"y","type":"quantitative","scale":{"nice":false,"zero":false,"domain":[1.102366,1.107757]}}}},
{"data":{"name":"flash"},"mark":{"type":"point","filled":true,"fill":"#8e24aa","opacity":1,"strokeWidth":0,"size":529,"shape":"M0.15,-0.5L-0.35,0.1H0L-0.15,0.5L0.35,-0.1H0Z"},"encoding":{"x":{"field":"x","type":"temporal","scale":{"type":"utc","nice":false,"domain":[1725340949000,1725408072000]}},"y":{"field":"y","type":"quantitative","scale":{"nice":false,"zero":false,"domain":[1.102366,1.107757]}}}},
{"data":{"name":"dot"},"mark":{"type":"point","shape":"circle","filled":true,"fill":"#f23645","opacity":1,"stroke":"#ffffff","strokeWidth":1,"size":64},"encoding":{"x":{"field":"x","type":"temporal","scale":{"type":"utc","nice":false,"domain":[1725340949000,1725408072000]}},"y":{"field":"y","type":"quantitative","scale":{"nice":false,"zero":false,"domain":[1.102366,1.107757]}}}}
]}
